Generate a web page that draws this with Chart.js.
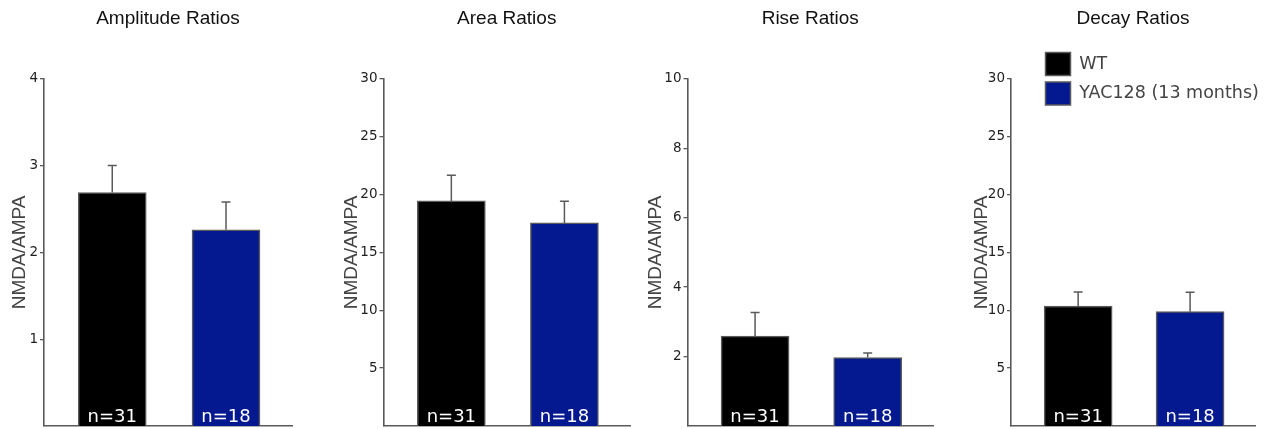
<!DOCTYPE html>
<html>
<head>
<meta charset="utf-8">
<script src="https://cdn.jsdelivr.net/npm/chart.js@4/dist/chart.umd.min.js"></script>
<style>
  html, body { margin: 0; padding: 0; background: #ffffff; width: 1271px; height: 429px; overflow: hidden; }
  .panel { position: absolute; top: 0; }
</style>
</head>
<body>
<div id="wrap"></div>
<script>
// ---------------- data ----------------
const groups = ['WT', 'YAC128 (13 months)'];
const panelTitles = ['Amplitude Ratios', 'Area Ratios', 'Rise Ratios', 'Decay Ratios'];
const yAxisTitle = 'NMDA/AMPA';
const yMax = [4, 30, 10, 30];
const yTicks1 = [1, 2, 3, 4];
const yTicks2 = [5, 10, 15, 20, 25, 30];
const yTicks3 = [2, 4, 6, 8, 10];
const yTicks4 = [5, 10, 15, 20, 25, 30];
const wtMean  = [2.69, 19.45, 2.59, 10.37];
const wtSem   = [0.31, 2.22, 0.68, 1.21];
const yacMean = [2.26, 17.55, 1.97, 9.88];
const yacSem  = [0.32, 1.87, 0.13, 1.68];
const wtN  = [31, 31, 31, 31];
const yacN = [18, 18, 18, 18];

// ---------------- layout / style ----------------
const yTickSets = [yTicks1, yTicks2, yTicks3, yTicks4];
const canvasLeft = [0, 320, 640, 955];
const axisX      = [44, 383.5, 687.5, 1011];
const yTitleX    = [20, 351.7, 656, 981.7];
const rightEdge  = [292, 630, 933.3, 1255];
const PAD_RIGHT = 4;
const COLORS = ['#000000', '#04198f'];
const EDGE = '#5a5a5a';

const errorBarsAndCounts = {
  id: 'errorBarsAndCounts',
  afterDatasetsDraw(chart) {
    const ctx = chart.ctx;
    const ys = chart.scales.y;
    chart.data.datasets.forEach((ds, di) => {
      const meta = chart.getDatasetMeta(di);
      meta.data.forEach((bar, i) => {
        const pt = ds.data[i];
        const topPx = ys.getPixelForValue(pt.y + ds.errors[i]);
        ctx.save();
        ctx.strokeStyle = EDGE;
        ctx.lineWidth = 1.5;
        ctx.beginPath();
        ctx.moveTo(bar.x, bar.y);
        ctx.lineTo(bar.x, topPx);
        ctx.moveTo(bar.x - 4.5, topPx);
        ctx.lineTo(bar.x + 4.5, topPx);
        ctx.stroke();
        ctx.fillStyle = '#ffffff';
        ctx.font = '18px "DejaVu Sans", sans-serif';
        ctx.textAlign = 'center';
        ctx.textBaseline = 'alphabetic';
        ctx.fillText('n=' + ds.counts[i], bar.x, ys.bottom - 4);
        ctx.restore();
      });
    });
  }
};

const wrap = document.getElementById('wrap');

function makeCanvas(left, top, w, h) {
  const c = document.createElement('canvas');
  c.className = 'panel';
  c.style.left = left + 'px';
  c.style.top = top + 'px';
  c.width = w; c.height = h;
  c.style.width = w + 'px'; c.style.height = h + 'px';
  wrap.appendChild(c);
  return c;
}

for (let p = 0; p < 4; p++) {
  const w = Math.round(rightEdge[p] - canvasLeft[p] + PAD_RIGHT);
  const cv = makeCanvas(canvasLeft[p], 0, w, 429);
  const yWidth = axisX[p] - canvasLeft[p];
  const ticksHere = yTickSets[p];
  new Chart(cv, {
    type: 'bar',
    data: {
      datasets: [
        { label: groups[0], data: [{ x: 0, y: wtMean[p] }], errors: [wtSem[p]], counts: [wtN[p]],
          backgroundColor: COLORS[0], borderColor: EDGE, borderWidth: 1.5, borderSkipped: 'start',
          grouped: false, barThickness: 68 },
        { label: groups[1], data: [{ x: 1, y: yacMean[p] }], errors: [yacSem[p]], counts: [yacN[p]],
          backgroundColor: COLORS[1], borderColor: EDGE, borderWidth: 1.5, borderSkipped: 'start',
          grouped: false, barThickness: 68 }
      ]
    },
    options: {
      responsive: false,
      animation: false,
      devicePixelRatio: 1,
      layout: { padding: { left: 0, right: PAD_RIGHT, top: 0, bottom: 3 } },
      plugins: {
        legend: { display: false },
        tooltip: { enabled: false },
        title: {
          display: true, text: panelTitles[p], fullSize: false,
          color: '#111111',
          font: { family: '"Liberation Sans", Arial, sans-serif', size: 19, weight: 'normal' },
          padding: { top: 7, bottom: 49 }
        }
      },
      scales: {
        x: {
          type: 'linear', min: -0.6, max: 1.58, offset: false,
          grid: { display: false, drawTicks: false, tickLength: 0 },
          ticks: { display: false },
          border: { display: true, color: EDGE, width: 1.6 }
        },
        y: {
          min: 0, max: yMax[p],
          afterBuildTicks: (s) => { s.ticks = ticksHere.map(v => ({ value: v })); },
          afterFit: (s) => { s.width = yWidth; s.paddingBottom = 0; s.paddingTop = 0; },
          grid: { display: true, drawOnChartArea: false, drawTicks: true, tickLength: 4, color: EDGE, lineWidth: 1.3 },
          border: { display: true, color: EDGE, width: 1.6 },
          ticks: { color: '#1e1e1e', padding: 2, font: { family: '"DejaVu Sans", sans-serif', size: 13.5 } },
          title: {
            display: true, text: yAxisTitle, color: '#444444',
            font: { family: '"Liberation Sans", Arial, sans-serif', size: 19 },
            padding: { top: yTitleX[p] - canvasLeft[p] - 11.4, bottom: 0 }
          }
        }
      }
    },
    plugins: [errorBarsAndCounts]
  });
}

// legend (drawn by Chart.js legend plugin)
const lg = makeCanvas(1039, 46, 232, 170);
new Chart(lg, {
  type: 'bar',
  data: {
    labels: [],
    datasets: [
      { label: groups[0], data: [], backgroundColor: COLORS[0], borderColor: EDGE, borderWidth: 1.5 },
      { label: groups[1], data: [], backgroundColor: COLORS[1], borderColor: EDGE, borderWidth: 1.5 }
    ]
  },
  options: {
    responsive: false,
    animation: false,
    devicePixelRatio: 1,
    layout: { padding: 0 },
    scales: { x: { display: false }, y: { display: false } },
    plugins: {
      tooltip: { enabled: false },
      title: { display: false },
      legend: {
        display: true, position: 'top', align: 'start',
        labels: {
          boxWidth: 25, boxHeight: 23, padding: 6.5, color: '#444444',
          font: { family: '"DejaVu Sans", sans-serif', size: 17.5 }
        }
      }
    }
  }
});
</script>
</body>
</html>
